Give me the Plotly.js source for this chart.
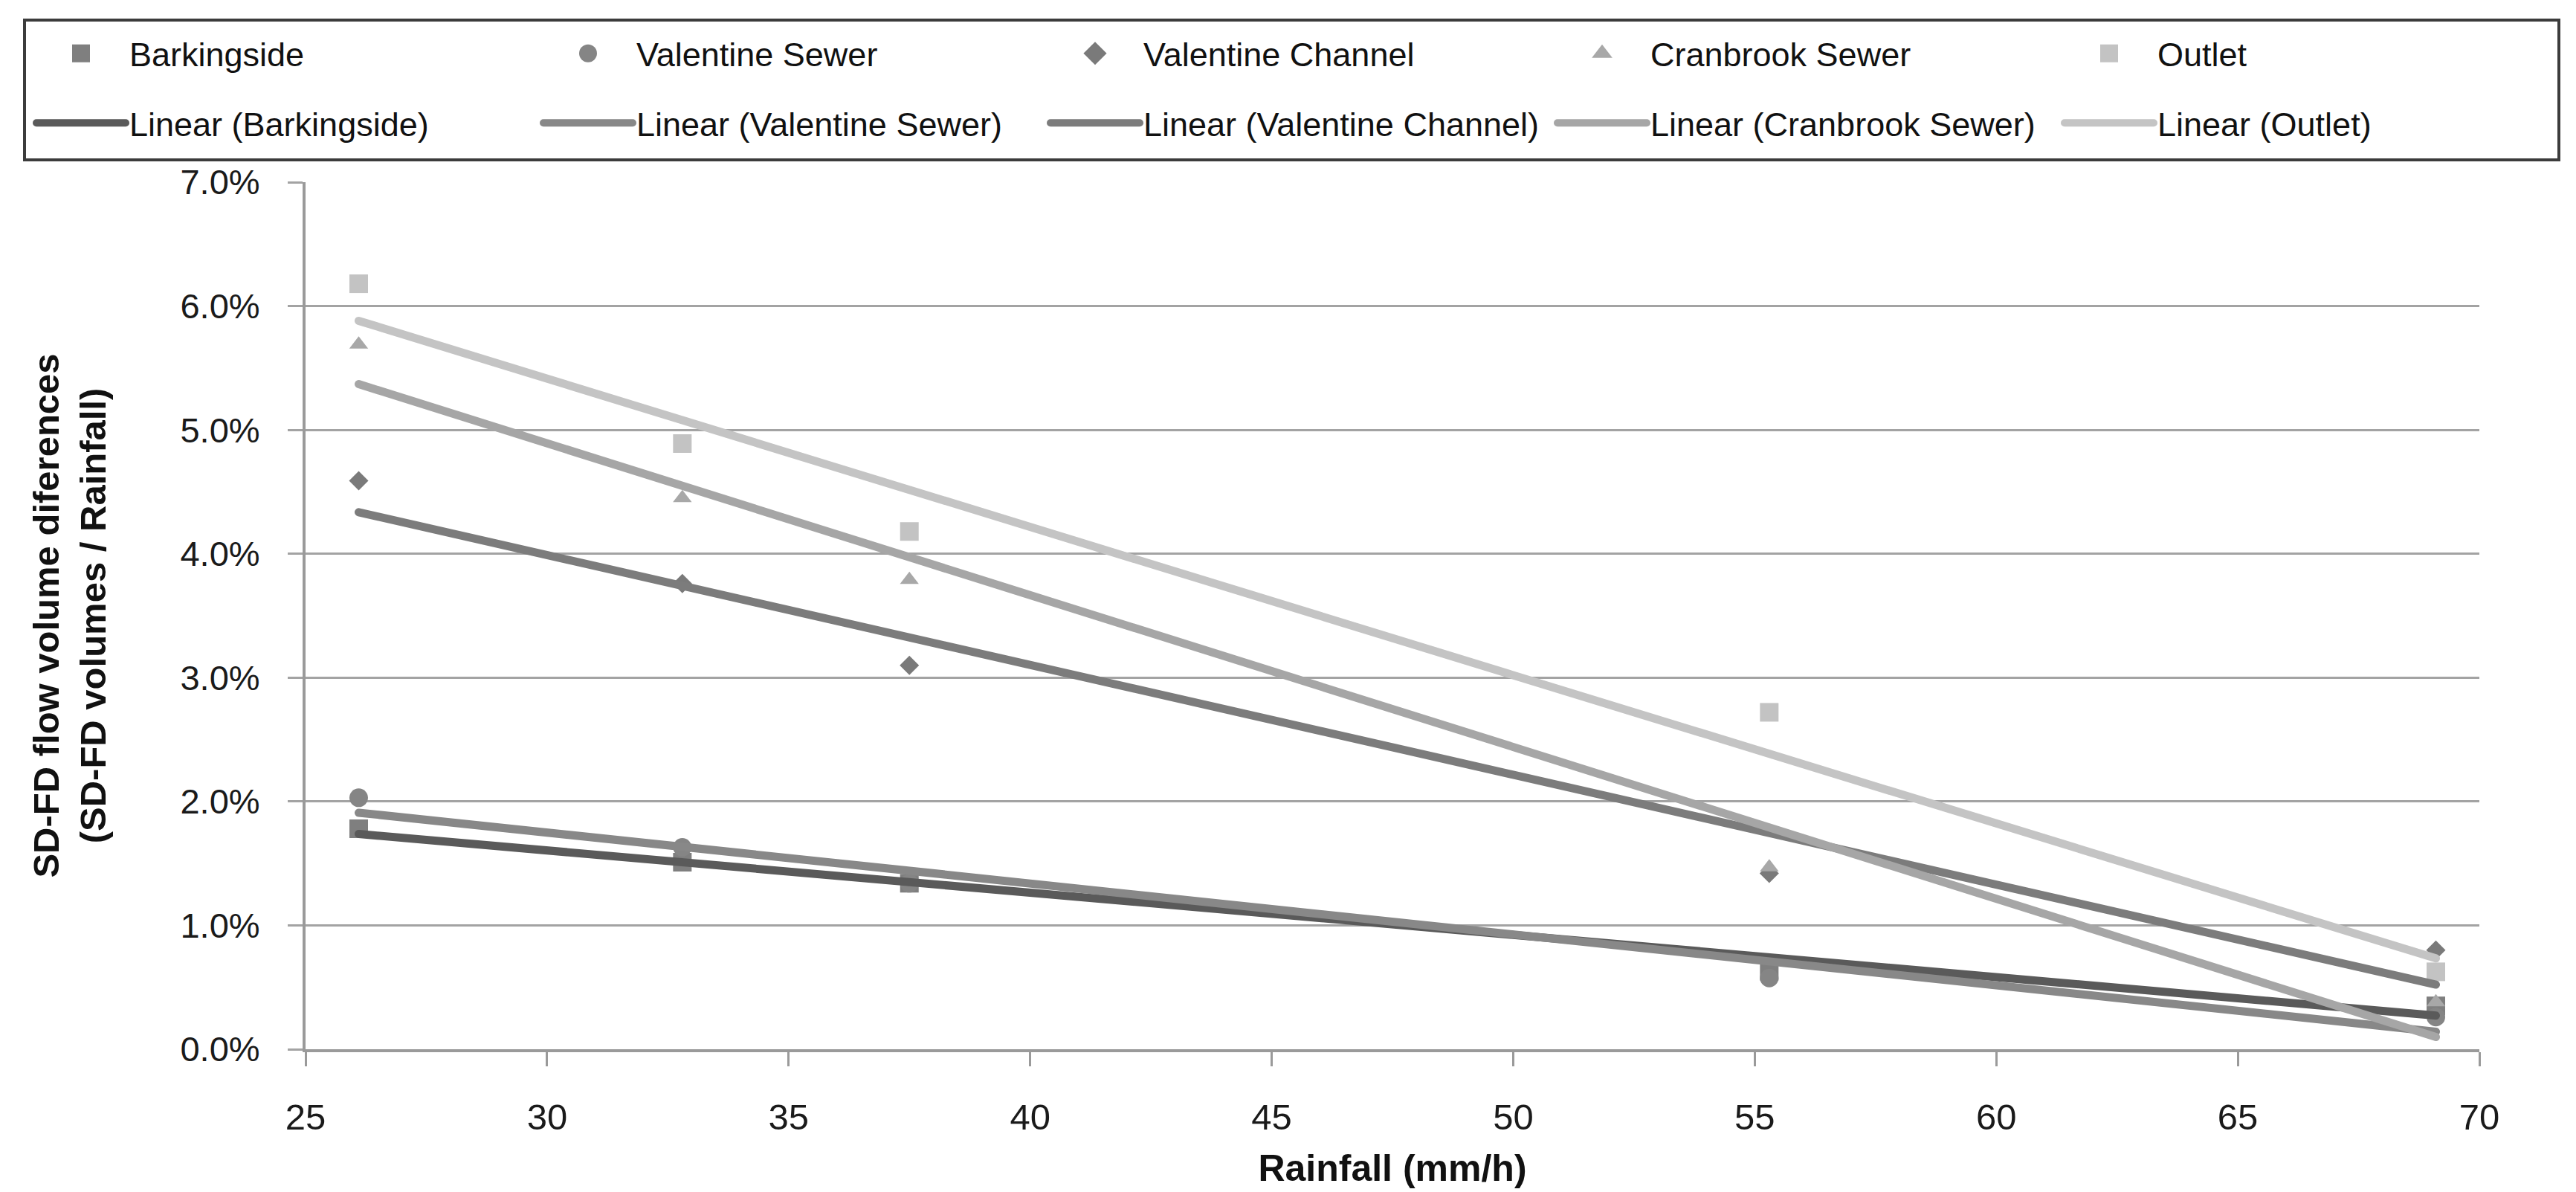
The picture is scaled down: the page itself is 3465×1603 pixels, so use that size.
<!DOCTYPE html>
<html>
<head>
<meta charset="utf-8">
<script src="https://cdn.plot.ly/plotly-3.0.1.min.js"></script>
<style>
  html, body { margin: 0; padding: 0; background: #ffffff; }
  #chart { width: 3465px; height: 1603px; }
</style>
</head>
<body>
<div id="chart"></div>
<script>
// ---- data ----
const rainfall = [26.1, 32.8, 37.5, 55.3, 69.1];          // mm/h
const seriesNames = ["Barkingside", "Valentine Sewer", "Valentine Channel", "Cranbrook Sewer", "Outlet"];
const barkingside      = [0.0178, 0.0151, 0.0134, 0.0063, 0.0035];
const valentineSewer   = [0.0203, 0.0163, 0.0134, 0.00575, 0.0026];
const valentineChannel = [0.0459, 0.0376, 0.0310, 0.0142, 0.0080];
const cranbrookSewer   = [0.0569, 0.0445, 0.0379, 0.0147, 0.0038];
const outlet           = [0.0618, 0.0489, 0.0418, 0.0272, 0.00625];
const xTickLabels = ["25", "30", "35", "40", "45", "50", "55", "60", "65", "70"];
const yTickLabels = ["0.0%", "1.0%", "2.0%", "3.0%", "4.0%", "5.0%", "6.0%", "7.0%"];

const seriesValues = [barkingside, valentineSewer, valentineChannel, cranbrookSewer, outlet];
const markerSymbols = ["square", "circle", "diamond", "triangle-up", "square"];
const markerColors  = ["#7f7f7f", "#858585", "#7a7a7a", "#a8a8a8", "#c3c3c3"];
const trendColors   = ["#5a5a5a", "#888888", "#7c7c7c", "#a6a6a6", "#c4c4c4"];
const markerSizes   = [25, 25, 20, 22, 25];

// Excel-style linear trendline (least squares) drawn between min and max x
function linearFit(xs, ys) {
  const n = xs.length;
  const mx = xs.reduce((a, b) => a + b, 0) / n;
  const my = ys.reduce((a, b) => a + b, 0) / n;
  let sxy = 0, sxx = 0;
  for (let i = 0; i < n; i++) { sxy += (xs[i] - mx) * (ys[i] - my); sxx += (xs[i] - mx) ** 2; }
  const b = sxy / sxx, a = my - b * mx;
  const x0 = Math.min(...xs), x1 = Math.max(...xs);
  return { x: [x0, x1], y: [a + b * x0, a + b * x1] };
}

const legendIds = ["legend", "legend2", "legend3", "legend4", "legend5"];
const traces = [];
seriesNames.forEach((name, i) => {
  traces.push({
    type: "scatter", mode: "markers", name: name,
    x: rainfall, y: seriesValues[i],
    marker: { symbol: markerSymbols[i], color: markerColors[i], size: markerSizes[i], line: { width: 0 } },
    legend: legendIds[i], legendgroup: "m" + i,
    hoverinfo: "x+y+name"
  });
});
seriesNames.forEach((name, i) => {
  const fit = linearFit(rainfall, seriesValues[i]);
  traces.push({
    type: "scatter", mode: "lines", name: "Linear (" + name + ")",
    x: fit.x, y: fit.y,
    line: { color: trendColors[i], width: 11 },
    legend: legendIds[i], legendgroup: "t" + i
  });
});

// geometry of the plot area (pixels)
const W = 3465, H = 1603;
const mL = 411, mR = 130, mT = 245, mB = 192;
const pw = W - mL - mR, ph = H - mT - mB;
const px = v => (v - mL) / pw;
const py = v => (H - mB - v) / ph;

const FONT = "Liberation Sans, Arial, sans-serif";
const legendFont = { family: FONT, size: 45, color: "#111111" };
const layout = {
  width: W, height: H,
  margin: { l: mL, r: mR, t: mT, b: mB, pad: 0 },
  paper_bgcolor: "#ffffff", plot_bgcolor: "#ffffff",
  showlegend: true,
  xaxis: {
    range: [25, 70], tickmode: "array",
    tickvals: xTickLabels.map(Number), ticktext: xTickLabels,
    showgrid: false, zeroline: false,
    showline: true, linecolor: "#9a9a9a", linewidth: 4,
    ticks: "outside", ticklen: 19, tickwidth: 3, tickcolor: "#9a9a9a",
    ticklabelstandoff: 26,
    tickfont: { family: FONT, size: 49, color: "#1a1a1a" },
    title: { text: "<b>Rainfall (mm/h)</b>", standoff: 26,
             font: { family: FONT, size: 50, color: "#111111" } }
  },
  yaxis: {
    range: [0, 0.07], tickmode: "array",
    tickvals: yTickLabels.map(s => parseFloat(s) / 100), ticktext: yTickLabels,
    showgrid: true, gridcolor: "#a3a3a3", gridwidth: 3, zeroline: false,
    showline: true, linecolor: "#9a9a9a", linewidth: 4,
    ticks: "outside", ticklen: 20, tickwidth: 3, tickcolor: "#a3a3a3",
    ticklabelstandoff: 28,
    tickfont: { family: FONT, size: 47, color: "#1a1a1a" },
    title: { text: "<b>SD-FD flow volume diferences<br>(SD-FD volumes / Rainfall)</b>", standoff: 85,
             font: { family: FONT, size: 49, color: "#111111" } }
  },
  shapes: [{
    type: "rect", xref: "paper", yref: "paper", layer: "above",
    x0: px(33), x1: px(3442), y0: py(215), y1: py(27),
    line: { color: "#3c3c3c", width: 4 }, fillcolor: "rgba(0,0,0,0)"
  }]
};
legendIds.forEach((id, k) => {
  layout[id] = {
    x: px(44 + k * 682), y: py(36), xanchor: "left", yanchor: "top",
    orientation: "v", bgcolor: "rgba(0,0,0,0)", borderwidth: 0,
    font: legendFont, itemwidth: 120, tracegroupgap: 32, itemclick: false
  };
});

Plotly.newPlot("chart", traces, layout, { displayModeBar: false, staticPlot: true }).then(gd => {
  // legend symbols a little larger (Plotly caps legend marker size), round line caps like the original
  gd.querySelectorAll(".legendpoints path.scatterpts").forEach(p => {
    const t = p.getAttribute("transform") || "";
    p.setAttribute("transform", t + " scale(1.5)");
  });
  gd.querySelectorAll(".scatterlayer path.js-line, .legendlines path").forEach(p => {
    p.style.strokeLinecap = "round";
  });
});
</script>
</body>
</html>
